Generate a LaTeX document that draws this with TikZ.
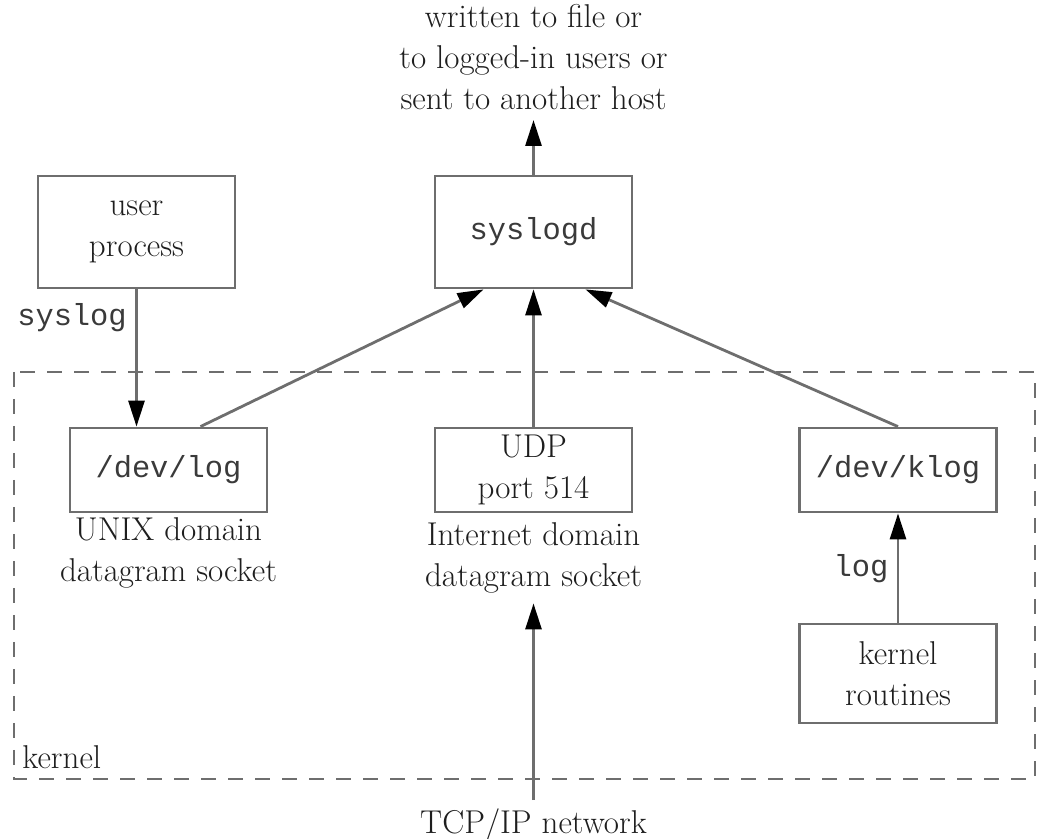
\documentclass[tikz,border=0pt]{standalone}
\usepackage{fontspec}
\setmonofont{Liberation Mono}
\usetikzlibrary{arrows.meta,calc}
\definecolor{ln}{HTML}{6E6E6E}
\definecolor{tx}{HTML}{1E1E1E}
\definecolor{tt}{HTML}{3A3A3A}
\begin{document}
\begin{tikzpicture}[x=0.5pt,y=-0.5pt,
  rmtext/.style={text=tx, font=\fontsize{16.5}{20.5}\selectfont, align=center, inner sep=0pt},
  tttext/.style={text=tt, font=\fontsize{15.2}{20.5}\selectfont\ttfamily, align=center, inner sep=0pt},
  box/.style={draw=ln, line width=1.4pt, minimum width=98.5pt},
  arr/.style={draw=ln, line width=1.4pt, -{Triangle[length=13pt,width=8pt,color=black]}},
  kbox/.style={draw=ln, line width=1.4pt, dash pattern=on 7.5pt off 6pt}]
\useasboundingbox (0,0) rectangle (1040,839);
% kernel region
\draw[kbox] (14,372) rectangle (1035,779);
\node[rmtext, anchor=west] (kernel) at (22,757) {kernel};
% boxes
\node[box, rmtext, minimum height=56pt] (user) at (136.5,232) {user\\process};
\node[box, tttext, minimum height=56pt] (syslogd) at (533.5,232) {syslogd};
\node[box, tttext, minimum height=42pt] (devlog) at (168.5,470) {/dev/log};
\node[box, rmtext, minimum height=42pt] (udp) at (533.5,470) {UDP\\port 514};
\node[box, tttext, minimum height=42pt] (klog) at (898,470) {/dev/klog};
\node[box, rmtext, minimum height=49.5pt] (kr) at (898,673.5) {kernel\\routines};
% labels
\node[rmtext, anchor=south, inner sep=5pt] (out) at (533.5,120) {written to file or\\to logged-in users or\\sent to another host};
\node[rmtext, anchor=north] (unixlbl) at (168.5,517) {UNIX domain\\datagram socket};
\node[rmtext, anchor=north, inner ysep=5pt] (inetlbl) at (533.5,512) {Internet domain\\datagram socket};
\node[rmtext, anchor=north, inner ysep=4pt] (tcp) at (533.5,800) {TCP/IP network};
\node[tttext] (syslogl) at (72,318) {syslog};
\node[tttext] (logl) at (861,569) {log};
% connectors
\draw[arr] (user.south) -- (user.south |- devlog.north);
\draw[arr] ($(devlog.north west)!0.66!(devlog.north east)$) -- ($(syslogd.south west)!0.25!(syslogd.south east)$);
\draw[arr] (udp.north) -- (syslogd.south);
\draw[arr] (klog.north) -- ($(syslogd.south west)!0.76!(syslogd.south east)$);
\draw[arr] (syslogd.north) -- (out.south);
\draw[arr] (kr.north) -- (klog.south);
\draw[arr] (tcp.north) -- (inetlbl.south);
\end{tikzpicture}
\end{document}
